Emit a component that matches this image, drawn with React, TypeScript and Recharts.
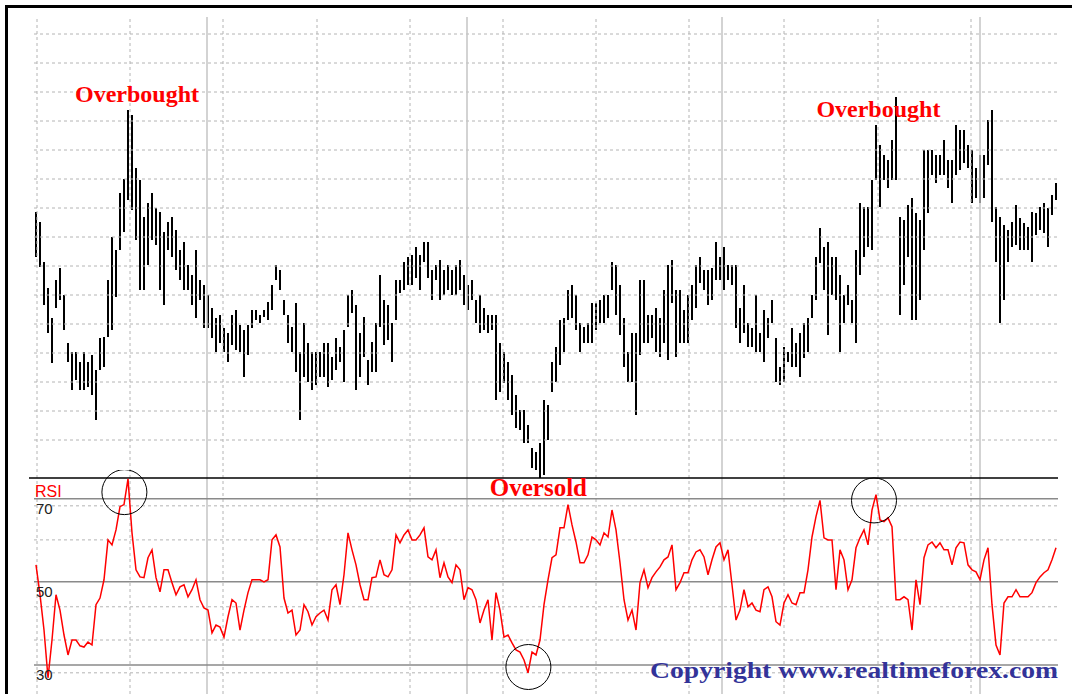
import React from 'react';
import { ComposedChart, LineChart, Bar, Line, XAxis, YAxis, ReferenceLine, ReferenceDot } from 'recharts';

// Price bars (arbitrary price index units), one bar per session
const highs = [
  268, 258, 218, 192, 162, 200, 212, 185, 137, 128,
  128, 118, 128, 118, 125, 110, 142, 143, 200, 243,
  230, 287, 301, 370, 365, 312, 300, 263, 277, 287,
  272, 268, 248, 258, 263, 250, 230, 238, 215, 205,
  230, 200, 195, 185, 172, 162, 165, 152, 147, 165,
  170, 155, 150, 155, 170, 170, 165, 170, 178, 195,
  215, 210, 180, 165, 153, 177, 128, 157, 137, 128,
  128, 128, 137, 137, 123, 142, 133, 150, 185, 190,
  175, 147, 163, 120, 138, 157, 205, 180, 175, 157,
  200, 200, 218, 223, 225, 233, 225, 238, 238, 210,
  215, 220, 210, 215, 210, 215, 220, 205, 195, 200,
  180, 185, 172, 165, 165, 165, 137, 128, 118, 105,
  85, 70, 70, 55, 32, 28, 37, 80, 75, 118,
  133, 160, 162, 190, 195, 185, 157, 153, 157, 177,
  177, 180, 185, 185, 218, 215, 195, 162, 128, 147,
  147, 200, 200, 165, 165, 172, 162, 190, 215, 220,
  190, 190, 170, 185, 195, 215, 223, 210, 210, 212,
  238, 223, 233, 215, 215, 215, 172, 195, 157, 152,
  185, 147, 170, 162, 180, 142, 113, 133, 128, 152,
  137, 147, 157, 162, 185, 223, 252, 233, 238, 223,
  223, 205, 185, 195, 180, 230, 277, 273, 273, 300,
  355, 335, 325, 320, 340, 383, 263, 260, 275, 282,
  267, 260, 330, 330, 330, 325, 325, 340, 320, 320,
  355, 350, 350, 335, 330, 312, 325, 325, 360, 370,
  273, 263, 255, 250, 258, 275, 262, 257, 253, 268,
  267, 273, 277, 272, 285, 297,
];

const lows = [
  223, 213, 175, 147, 117, 172, 180, 150, 118, 90,
  100, 90, 90, 93, 85, 60, 110, 113, 143, 150,
  183, 230, 248, 280, 270, 240, 190, 190, 215, 240,
  235, 190, 175, 230, 223, 210, 200, 190, 190, 175,
  162, 180, 152, 152, 142, 128, 137, 128, 118, 135,
  130, 128, 103, 125, 152, 160, 157, 163, 160, 170,
  200, 190, 165, 137, 128, 108, 60, 103, 98, 90,
  95, 103, 103, 93, 100, 110, 118, 98, 153, 167,
  90, 103, 123, 95, 108, 108, 153, 135, 140, 118,
  160, 187, 190, 195, 195, 202, 190, 218, 202, 180,
  200, 180, 185, 190, 185, 185, 190, 175, 170, 180,
  157, 147, 150, 147, 150, 80, 88, 97, 80, 65,
  52, 50, 37, 37, 12, 10, 2, 5, 40, 88,
  98, 115, 128, 160, 162, 150, 128, 137, 137, 137,
  150, 157, 157, 162, 190, 165, 145, 113, 98, 98,
  65, 125, 137, 137, 142, 128, 123, 137, 120, 177,
  123, 137, 137, 137, 160, 172, 197, 190, 175, 180,
  200, 200, 190, 200, 195, 152, 137, 147, 133, 133,
  128, 128, 118, 142, 157, 98, 95, 98, 118, 113,
  113, 103, 122, 128, 162, 180, 217, 190, 145, 185,
  180, 128, 157, 175, 157, 137, 205, 223, 233, 230,
  300, 273, 300, 292, 300, 300, 165, 195, 223, 160,
  160, 180, 230, 267, 305, 297, 305, 305, 292, 277,
  305, 310, 317, 312, 277, 282, 277, 282, 315, 258,
  218, 157, 180, 218, 233, 235, 230, 230, 230, 218,
  245, 250, 247, 233, 265, 280,
];

// RSI values, one per session
const rsi = [
  54.1, 46.9, 38.4, 26.9, 36.0, 46.9, 43.2, 37.2, 32.4, 36.0,
  36.0, 34.6, 34.3, 35.5, 34.8, 44.5, 46.1, 50.5, 60.1, 58.9,
  62.5, 68.1, 68.6, 74.8, 61.8, 52.9, 51.2, 51.0, 55.8, 57.7,
  51.0, 47.6, 52.9, 52.9, 49.8, 46.9, 48.8, 49.3, 46.4, 48.1,
  50.5, 45.7, 43.7, 43.2, 37.7, 39.6, 39.1, 36.7, 41.6, 45.7,
  44.9, 38.4, 43.2, 47.4, 50.5, 50.5, 50.5, 50.0, 50.5, 60.1,
  61.3, 58.4, 46.1, 42.5, 43.2, 37.2, 38.4, 44.5, 42.8, 39.6,
  41.6, 42.5, 43.2, 40.8, 48.1, 49.3, 44.5, 51.7, 61.8, 57.7,
  54.1, 49.3, 45.7, 45.7, 51.0, 51.2, 55.3, 51.7, 51.2, 52.9,
  61.3, 59.4, 61.3, 62.5, 60.1, 60.1, 61.3, 63.0, 56.0, 55.3,
  57.7, 51.0, 54.6, 51.2, 49.8, 54.1, 52.9, 45.7, 48.6, 48.1,
  45.7, 40.1, 43.2, 45.7, 36.0, 47.4, 43.2, 36.7, 37.2, 35.3,
  33.6, 33.1, 31.2, 28.1, 33.1, 32.4, 36.0, 44.5, 50.5, 55.8,
  56.5, 63.0, 63.0, 68.6, 63.7, 59.6, 54.6, 54.6, 56.5, 60.8,
  60.1, 58.9, 61.8, 60.8, 67.3, 62.5, 54.6, 45.7, 40.8, 43.2,
  38.4, 49.8, 52.9, 48.6, 51.0, 52.4, 53.6, 55.3, 56.0, 58.9,
  48.1, 49.8, 52.2, 52.2, 55.3, 57.2, 57.7, 56.0, 51.7, 55.3,
  58.4, 59.4, 55.3, 57.7, 49.3, 40.8, 43.2, 48.1, 44.0, 44.9,
  43.2, 42.8, 48.1, 48.8, 46.4, 40.4, 39.6, 44.9, 46.9, 44.9,
  44.5, 47.4, 47.4, 52.9, 60.8, 65.7, 69.6, 60.6, 60.1, 60.1,
  48.1, 57.7, 55.3, 48.1, 50.5, 58.2, 60.6, 62.5, 58.9, 67.3,
  71.0, 64.9, 64.5, 65.4, 63.3, 45.7, 45.7, 46.4, 45.7, 38.4,
  50.5, 44.5, 55.8, 58.9, 59.6, 58.2, 59.4, 57.7, 57.7, 54.1,
  58.2, 59.6, 59.4, 54.1, 52.9, 52.4, 50.5, 55.3, 58.2, 44.5,
  34.8, 32.4, 44.9, 46.4, 46.4, 48.1, 46.4, 46.4, 46.4, 47.4,
  49.8, 51.2, 52.2, 52.9, 55.3, 58.2,
];

// Grid positions (session index units / value units)
const dashedVertical = [0.25, 23.5, 46.75, 70.25, 93.5, 116.75, 140, 163.25, 187, 210.5, 233.75];
const solidVertical = [42.75, 107.75, 171.5, 236];
const priceGridValues = [40, 69, 98, 127, 156, 185, 214, 243, 272, 301, 330, 359, 388, 417, 446];
const rsiLevels = [70, 50, 30];
const rsiGridValues = [68.3, 60.1, 44.0, 36.0, 28.1];

// Annotations
const priceNotes = [
  { text: 'Overbought', i: 25.25, v: 378 },
  { text: 'Overbought', i: 210.6, v: 363 },
];
const rsiCircles = [
  { i: 22.1, v: 71.6 },
  { i: 123.1, v: 29.5 },
  { i: 209.5, v: 69.6 },
];
const oversoldNote = { text: 'Oversold', i: 125.6, v: 70.7 };
const copyrightNote = { text: 'Copyright www.realtimeforex.com', i: 153.5, v: 26.9 };

const N = highs.length;
const priceData = highs.map((h, i) => ({ i, range: [lows[i], h] }));
const rsiData = rsi.map((r, i) => ({ i, rsi: r }));

const W = 1072;
const X_DOMAIN: [number, number] = [-0.5, N - 0.5];
const SERIF = '"Liberation Serif", "Times New Roman", serif';
const SANS = '"Liberation Sans", Arial, sans-serif';

const dashStroke = '#b4b4b4';
const solidStroke = '#c4c4c4';

export default function App() {
  return (
    <div style={{ position: 'absolute', left: 0, top: 0, width: W, height: 694, background: '#fff', overflow: 'hidden' }}>
      {/* top price panel */}
      <div style={{ position: 'absolute', left: 0, top: 0 }}>
        <ComposedChart width={W} height={480} data={priceData} margin={{ top: 17, right: 14, bottom: 2, left: 34 }}>
          <XAxis xAxisId="cat" dataKey="i" type="category" hide />
          <XAxis xAxisId="num" dataKey="i" type="number" domain={X_DOMAIN} hide />
          <YAxis domain={[2, 463]} hide />
          {priceGridValues.map((v) => (
            <ReferenceLine key={'ph' + v} xAxisId="num" y={v} stroke={dashStroke} strokeDasharray="3 3" />
          ))}
          {dashedVertical.map((x) => (
            <ReferenceLine key={'pv' + x} xAxisId="num" x={x} stroke={dashStroke} strokeDasharray="3 3" />
          ))}
          {solidVertical.map((x) => (
            <ReferenceLine key={'ps' + x} xAxisId="num" x={x} stroke={solidStroke} strokeWidth={1.5} />
          ))}
          <Bar xAxisId="cat" dataKey="range" fill="#000" barSize={2} isAnimationActive={false} />
          {priceNotes.map((n, k) => (
            <ReferenceDot
              key={'pn' + k}
              xAxisId="num"
              x={n.i}
              y={n.v}
              r={0}
              shape={(p: any) => (
                <text x={p.cx} y={p.cy} textAnchor="middle" fill="#ff0000" fontFamily={SERIF} fontWeight="bold" fontSize={24}>
                  {n.text}
                </text>
              )}
            />
          ))}
        </ComposedChart>
      </div>

      {/* RSI panel */}
      <div style={{ position: 'absolute', left: 0, top: 470 }}>
        <LineChart width={W} height={224} data={rsiData} margin={{ top: 8, right: 14, bottom: 0, left: 34 }}>
          <XAxis dataKey="i" type="number" domain={X_DOMAIN} hide />
          <YAxis domain={[23, 75]} hide allowDataOverflow />
          {rsiGridValues.map((v) => (
            <ReferenceLine key={'rh' + v} y={v} stroke={dashStroke} strokeDasharray="3 3" />
          ))}
          {dashedVertical.map((x) => (
            <ReferenceLine key={'rv' + x} x={x} stroke={dashStroke} strokeDasharray="3 3" />
          ))}
          {solidVertical.map((x) => (
            <ReferenceLine key={'rs' + x} x={x} stroke={solidStroke} strokeWidth={1.5} />
          ))}
          {rsiLevels.map((v) => (
            <ReferenceLine key={'rl' + v} y={v} stroke="#8a8a8a" strokeWidth={1.5} />
          ))}
          <ReferenceLine
            segment={[{ x: -1.75, y: 75 }, { x: N - 0.5, y: 75 }]}
            ifOverflow="visible"
            stroke="#000"
            strokeWidth={1.5}
          />
          <Line dataKey="rsi" type="linear" stroke="#ff0000" strokeWidth={1.5} dot={false} isAnimationActive={false} />
          {rsiLevels.map((v) => (
            <ReferenceDot
              key={'lab' + v}
              x={0}
              y={v}
              r={0}
              shape={(p: any) => (
                <text x={p.cx} y={p.cy + 15.5} fill="#222" fontFamily={SANS} fontSize={15}>
                  {String(v)}
                </text>
              )}
            />
          ))}
          <ReferenceDot
            x={0}
            y={70}
            r={0}
            shape={(p: any) => (
              <text x={p.cx - 1} y={p.cy - 2} fill="#ff0000" fontFamily={SANS} fontSize={16}>
                RSI
              </text>
            )}
          />
          {rsiCircles.map((c, k) => (
            <ReferenceDot key={'c' + k} x={c.i} y={c.v} r={22.5} fill="none" stroke="#000" strokeWidth={1} />
          ))}
          <ReferenceDot
            x={oversoldNote.i}
            y={oversoldNote.v}
            r={0}
            shape={(p: any) => (
              <text x={p.cx} y={p.cy} textAnchor="middle" fill="#ff0000" fontFamily={SERIF} fontWeight="bold" fontSize={25}>
                {oversoldNote.text}
              </text>
            )}
          />
          <ReferenceDot
            x={copyrightNote.i}
            y={copyrightNote.v}
            r={0}
            shape={(p: any) => (
              <text
                x={p.cx}
                y={p.cy}
                fill="#333399"
                fontFamily={SERIF}
                fontWeight="bold"
                fontSize={23}
                textLength={408}
                lengthAdjust="spacingAndGlyphs"
              >
                {copyrightNote.text}
              </text>
            )}
          />
        </LineChart>
      </div>

      {/* frame */}
      <div style={{ position: 'absolute', left: 5, top: 5, width: W, height: 700, borderLeft: '3px solid #000', borderTop: '3px solid #000', boxSizing: 'border-box' }} />
    </div>
  );
}
